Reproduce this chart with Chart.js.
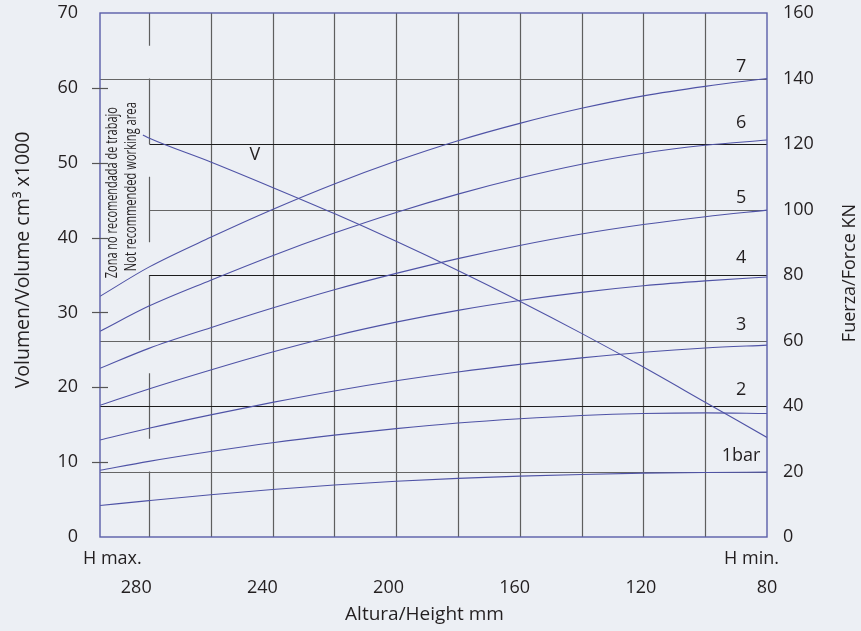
<!DOCTYPE html>
<html>
<head>
<meta charset="utf-8">
<title>Fuerza / Volumen - Altura</title>
<script src="https://cdn.jsdelivr.net/npm/chart.js@4.4.1/dist/chart.umd.min.js"></script>
<style>
  html, body { margin: 0; padding: 0; background: #eceff4; }
  #wrap { width: 861px; height: 631px; }
</style>
</head>
<body>
<div id="wrap"><canvas id="myChart"></canvas></div>
<script>
// altura (mm) at the left edge and at each vertical grid line, H max. -> H min.
let heights = [291.5, 276, 256.4, 236.8, 217.2, 197.6, 178, 158.4, 138.8, 119.2, 99.6, 80];

// fuerza (KN) for each pressure, read at the heights above
let bar1 = [9.6, 11.1, 12.9, 14.5, 15.9, 17.0, 17.9, 18.6, 19.1, 19.5, 19.7, 19.8];
let bar2 = [20.4, 23.1, 26.1, 28.8, 31.1, 33.1, 34.8, 36.1, 37.1, 37.7, 37.9, 37.7];
let bar3 = [29.6, 33.2, 37.3, 41.1, 44.6, 47.7, 50.4, 52.7, 54.7, 56.4, 57.7, 58.6];
let bar4 = [40.2, 45.2, 51.0, 56.5, 61.4, 65.6, 69.2, 72.2, 74.7, 76.7, 78.2, 79.4];
let bar5 = [51.5, 57.6, 63.9, 69.9, 75.5, 80.5, 85.0, 89.0, 92.5, 95.4, 97.8, 99.8];
let bar6 = [62.8, 70.5, 78.4, 85.9, 92.8, 99.1, 104.7, 109.6, 113.8, 117.2, 119.6, 121.2];
let bar7 = [73.5, 82.4, 91.5, 100.0, 107.8, 114.8, 121.0, 126.3, 130.9, 134.7, 137.6, 140.0];
let pressureNames = ['1bar', '2', '3', '4', '5', '6', '7'];

// volumen (cm3 x1000)
let volHeights = [277.9, 276, 256.4, 236.8, 217.2, 197.6, 178, 158.4, 138.8, 119.2, 99.6, 80];
let volume = [53.7, 53.3, 50.1, 46.7, 43.2, 39.5, 35.6, 31.5, 27.2, 22.7, 18.0, 13.3];

let xTicks = [280, 240, 200, 160, 120, 80];

const ink = '#231f20';
const curveBlue = '#4f53a6';
const font = "'Open Sans', sans-serif";

// where the curve names sit (altura, KN)
const nameAt = 88.2;
const nameKN = [24.7, 44.9, 64.7, 85.2, 103.5, 126.4, 143.5];
// gaps in the grid line that bounds the not-recommended zone
const zoneLine = 276;
const zoneSegments = [[160, 150], [140, 120], [110, 90], [80, 60], [50, 30], [20, 0]];
const shortRows = [80, 100, 120];

const decor = {
  id: 'decor',
  beforeDraw(chart) {
    const { ctx, width, height } = chart;
    ctx.save();
    ctx.fillStyle = '#eceff4';
    ctx.fillRect(0, 0, width, height);
    ctx.restore();
  },
  beforeDatasetsDraw(chart) {
    const { ctx, chartArea: a, scales } = chart;
    const x = scales.x, kn = scales.y2;
    ctx.save();
    ctx.lineWidth = 1.2;

    // vertical grid
    ctx.strokeStyle = '#5e5e5e';
    heights.slice(2, -1).forEach((h) => {
      let px = Math.round(x.getPixelForValue(h)) + 0.5;
      ctx.beginPath();
      ctx.moveTo(px, a.top);
      ctx.lineTo(px, a.bottom);
      ctx.stroke();
    });
    let zx = Math.round(x.getPixelForValue(zoneLine)) + 0.5;
    zoneSegments.forEach((s) => {
      ctx.beginPath();
      ctx.moveTo(zx, kn.getPixelForValue(s[0]));
      ctx.lineTo(zx, kn.getPixelForValue(s[1]));
      ctx.stroke();
    });

    // horizontal grid
    for (let v = 20; v <= 140; v += 20) {
      let py = Math.round(kn.getPixelForValue(v)) + 0.5;
      ctx.strokeStyle = (v / 20) % 2 ? '#656565' : '#1c1c1c';
      ctx.beginPath();
      ctx.moveTo(shortRows.includes(v) ? zx : a.left, py);
      ctx.lineTo(a.right, py);
      ctx.stroke();
    }
    ctx.restore();
  },
  afterDatasetsDraw(chart) {
    const { ctx, chartArea: a, scales } = chart;
    const x = scales.x, kn = scales.y2, vol = scales.y;
    ctx.save();

    // frame
    ctx.strokeStyle = '#5a5ea8';
    ctx.lineWidth = 1.4;
    ctx.strokeRect(a.left, a.top, a.right - a.left, a.bottom - a.top);

    // left ticks crossing the axis
    ctx.strokeStyle = '#555';
    ctx.lineWidth = 1.2;
    for (let v = 10; v <= 60; v += 10) {
      let py = Math.round(vol.getPixelForValue(v)) + 0.5;
      ctx.beginPath();
      ctx.moveTo(a.left - 8, py);
      ctx.lineTo(a.left + 8, py);
      ctx.stroke();
    }

    ctx.fillStyle = ink;
    ctx.textBaseline = 'middle';
    ctx.textAlign = 'center';
    ctx.font = '18px ' + font;
    pressureNames.forEach((name, i) => {
      ctx.fillText(name, x.getPixelForValue(nameAt), kn.getPixelForValue(nameKN[i]));
    });
    ctx.fillText('V', x.getPixelForValue(242.4), vol.getPixelForValue(51.0));

    // zone text, condensed
    const zone = (txt, h, v, len) => {
      ctx.save();
      ctx.translate(x.getPixelForValue(h), vol.getPixelForValue(v));
      ctx.rotate(-Math.PI / 2);
      ctx.font = '15.5px ' + font;
      let w = ctx.measureText(txt).width;
      ctx.scale(len / w, 1);
      ctx.fillText(txt, 0, 0);
      ctx.restore();
    };
    zone('Zona no recomendada de trabajo', 287.6, 46.0, 171);
    zone('Not recommended working area', 281.4, 46.8, 169);

    // H max. / H min.
    ctx.font = '18px ' + font;
    ctx.textAlign = 'left';
    ctx.fillText('H max.', a.left - 17, a.bottom + 22);
    ctx.textAlign = 'right';
    ctx.fillText('H min.', a.right + 12, a.bottom + 22);

    // axis titles
    ctx.textAlign = 'center';
    ctx.font = '19px ' + font;
    ctx.fillText('Altura/Height mm', (a.left + a.right) / 2 - 9, a.bottom + 78);
    ctx.save();
    ctx.translate(a.left - 77, (a.top + a.bottom) / 2 - 15);
    ctx.rotate(-Math.PI / 2);
    ctx.font = '19.5px ' + font;
    ctx.fillText('Volumen/Volume cm\u00B3 x1000', 0, 0);
    ctx.restore();
    ctx.save();
    ctx.translate(a.right + 83, (a.top + a.bottom) / 2 - 2);
    ctx.rotate(-Math.PI / 2);
    ctx.font = '18px ' + font;
    ctx.fillText('Fuerza/Force KN', 0, 0);
    ctx.restore();

    ctx.restore();
  }
};

const toPoints = (xs, ys) => xs.map((h, i) => ({ x: h, y: ys[i] }));

const noPad = (s) => {
  s.paddingTop = 0;
  s.paddingBottom = 0;
  s.paddingLeft = 0;
  s.paddingRight = 0;
};

const PlotChart = () => {
  const forces = [bar1, bar2, bar3, bar4, bar5, bar6, bar7];
  const datasets = forces.map((f, i) => ({
    label: pressureNames[i],
    data: toPoints(heights, f),
    yAxisID: 'y2',
  }));
  datasets.push({
    label: 'V',
    data: toPoints(volHeights, volume),
    yAxisID: 'y',
  });
  datasets.forEach((d) => {
    d.borderColor = curveBlue;
    d.borderWidth = 1.1;
    d.pointRadius = 0;
    d.fill = false;
    d.cubicInterpolationMode = 'monotone';
  });

  const tickFont = { family: font, size: 18 };
  const noGrid = { display: false, drawTicks: false };

  new Chart(document.getElementById('myChart'), {
    type: 'line',
    data: { datasets: datasets },
    options: {
      responsive: true,
      maintainAspectRatio: false,
      animation: false,
      devicePixelRatio: 1,
      layout: { padding: { top: 13 } },
      plugins: { legend: { display: false }, tooltip: { enabled: false } },
      scales: {
        x: {
          type: 'linear',
          reverse: true,
          min: 80,
          max: 291.5,
          grid: noGrid,
          border: { display: false },
          afterBuildTicks: (s) => { s.ticks = xTicks.map((v) => ({ value: v })); },
          afterFit: (s) => { s.height = 94; noPad(s); },
          ticks: { font: tickFont, color: ink, padding: 40, maxRotation: 0, autoSkip: false },
        },
        y: {
          position: 'left',
          min: 0,
          max: 70,
          grid: noGrid,
          border: { display: false },
          afterFit: (s) => { s.width = 100; noPad(s); },
          ticks: { stepSize: 10, font: tickFont, color: ink, padding: 22 },
        },
        y2: {
          position: 'right',
          min: 0,
          max: 160,
          grid: noGrid,
          border: { display: false },
          afterFit: (s) => { s.width = 94; noPad(s); },
          ticks: { stepSize: 20, font: tickFont, color: ink, padding: 16 },
        },
      },
    },
    plugins: [decor],
  });
};

window.onload = () => {
  PlotChart();
};
</script>
</body>
</html>
